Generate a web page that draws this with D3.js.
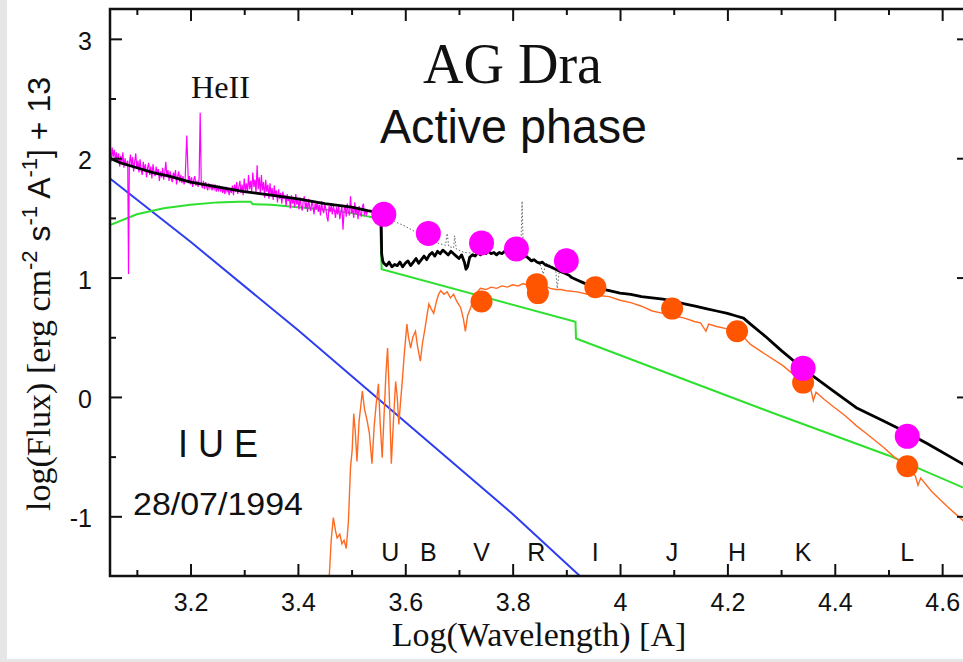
<!DOCTYPE html>
<html><head><meta charset="utf-8">
<script src="https://cdn.jsdelivr.net/npm/d3@7"></script>
<style>html,body{margin:0;padding:0;background:#fff;}svg{display:block;}</style>
</head><body>
<svg id="chart" width="963" height="662"></svg>
<script>
// ---------------- DATA ----------------
const xTickLabels = [3.2, 3.4, 3.6, 3.8, 4.0, 4.2, 4.4, 4.6];
const yTickLabels = [-1, 0, 1, 2, 3];
const bandNames = ["U","B","V","R","I","J","H","K","L"];
const bandLogWave = [3.572, 3.643, 3.742, 3.844, 3.954, 4.097, 4.218, 4.341, 4.535];

// IUE spectrum (magenta)
const iueSpectrum = [
[3.052,1.97],[3.054,2.09],[3.056,2.01],[3.058,2.07],[3.060,1.99],[3.062,2.05],[3.064,1.96],[3.066,2.04],[3.068,1.93],[3.070,2.02],[3.072,1.95],
[3.074,2.05],[3.076,1.92],[3.078,2.00],[3.080,1.94],[3.083,1.98],[3.0845,1.03],[3.086,1.95],[3.088,2.03],
[3.090,1.93],[3.092,2.01],[3.094,1.89],[3.096,1.97],[3.098,2.04],[3.100,1.91],[3.102,1.98],[3.104,1.88],[3.106,1.99],[3.108,1.90],
[3.110,1.86],[3.112,1.97],[3.114,1.89],[3.116,1.95],[3.118,1.84],[3.120,1.92],[3.122,1.96],[3.124,1.86],[3.126,1.93],[3.128,1.83],
[3.130,1.95],[3.132,1.88],[3.134,1.85],[3.136,1.93],[3.138,1.86],[3.140,1.91],[3.142,1.81],[3.144,1.89],[3.146,1.84],[3.148,1.92],
[3.150,1.82],[3.152,1.88],[3.154,1.97],[3.156,1.84],[3.158,1.90],[3.160,1.81],[3.162,1.89],[3.164,1.83],[3.166,1.80],[3.168,1.88],
[3.170,1.84],[3.172,1.90],[3.174,1.78],[3.176,1.85],[3.178,1.89],[3.180,1.80],[3.182,1.86],[3.184,1.79],[3.186,1.85],[3.188,1.78],
[3.190,1.83],[3.193,2.19],[3.196,1.79],[3.198,1.85],[3.200,1.78],[3.202,1.84],[3.204,1.76],[3.206,1.82],
[3.208,1.85],[3.210,1.77],[3.212,1.81],[3.214,1.76],[3.216,1.83],[3.218,2.38],[3.220,1.79],[3.222,1.75],[3.224,1.81],[3.226,1.74],
[3.228,1.80],[3.230,1.76],[3.232,1.73],[3.234,1.79],[3.236,1.75],[3.238,1.78],[3.240,1.73],[3.242,1.77],
[3.244,1.74],[3.246,1.78],[3.248,1.72],[3.250,1.76],[3.252,1.73],[3.254,1.77],[3.256,1.72],[3.258,1.76],[3.260,1.71],[3.262,1.75],
[3.264,1.70],[3.266,1.76],[3.268,1.72],[3.270,1.74],[3.272,1.69],[3.274,1.75],[3.276,1.71],[3.278,1.77],[3.280,1.69],[3.282,1.78],
[3.284,1.72],[3.286,1.80],[3.288,1.70],[3.290,1.76],[3.292,1.81],[3.294,1.71],[3.296,1.78],[3.298,1.69],[3.300,1.83],[3.302,1.72],
[3.304,1.79],[3.306,1.71],[3.308,1.86],[3.310,1.74],[3.312,1.81],[3.314,1.72],[3.316,1.88],[3.318,1.76],[3.320,1.82],[3.322,1.71],
[3.324,1.94],[3.326,1.74],[3.328,1.84],[3.330,1.70],[3.332,1.86],[3.334,1.73],[3.336,1.80],[3.338,1.67],[3.340,1.82],[3.342,1.72],
[3.344,1.78],[3.346,1.66],[3.348,1.79],[3.350,1.69],[3.352,1.75],[3.354,1.65],[3.356,1.77],[3.358,1.68],[3.360,1.73],[3.362,1.63],
[3.364,1.74],[3.366,1.66],[3.368,1.71],[3.370,1.62],[3.372,1.72],[3.374,1.66],[3.376,1.69],[3.378,1.60],[3.380,1.70],[3.382,1.64],
[3.384,1.68],[3.386,1.58],[3.388,1.69],[3.390,1.62],[3.392,1.66],[3.394,1.59],[3.396,1.70],[3.398,1.61],[3.400,1.66],[3.402,1.57],
[3.404,1.67],[3.406,1.60],[3.408,1.56],[3.410,1.65],[3.412,1.68],[3.414,1.58],[3.416,1.63],[3.418,1.55],[3.420,1.66],[3.422,1.59],
[3.424,1.56],[3.426,1.64],[3.428,1.60],[3.430,1.53],[3.432,1.62],[3.434,1.57],[3.436,1.64],[3.438,1.55],[3.440,1.61],[3.442,1.52],
[3.444,1.64],[3.446,1.57],[3.448,1.54],[3.450,1.62],[3.452,1.58],[3.454,1.51],[3.456,1.47],[3.458,1.60],[3.460,1.55],[3.462,1.61],
[3.464,1.53],[3.466,1.60],[3.468,1.56],[3.470,1.50],[3.472,1.59],[3.474,1.53],[3.476,1.60],[3.478,1.49],[3.480,1.55],[3.482,1.60],
[3.484,1.40],[3.486,1.56],[3.488,1.60],[3.490,1.51],[3.492,1.62],[3.494,1.55],[3.496,1.52],[3.498,1.68],[3.500,1.54],[3.502,1.58],
[3.504,1.50],[3.506,1.63],[3.508,1.53],[3.510,1.58],[3.512,1.49],[3.514,1.60],[3.516,1.54],[3.518,1.51],[3.520,1.59],[3.522,1.62],
[3.524,1.52],[3.526,1.57],[3.528,1.53],[3.530,1.56]
];

// total model / observed combined (black)
const totalSpectrum = [
[3.050,2.00],[3.07,1.96],[3.10,1.92],[3.13,1.88],[3.16,1.85],[3.20,1.80],[3.25,1.76],[3.30,1.72],[3.35,1.69],[3.40,1.66],
[3.45,1.62],[3.50,1.59],[3.53,1.56],[3.555,1.54],[3.556,1.20],[3.558,1.14],
[3.560,1.12],[3.565,1.10],[3.570,1.13],[3.575,1.09],[3.580,1.11],[3.585,1.10],[3.590,1.13],[3.595,1.09],[3.600,1.12],[3.605,1.14],
[3.610,1.10],[3.615,1.13],[3.620,1.16],[3.625,1.12],[3.630,1.15],[3.635,1.18],[3.640,1.15],[3.645,1.19],[3.650,1.21],[3.655,1.18],
[3.660,1.22],[3.665,1.20],[3.670,1.23],[3.675,1.21],[3.680,1.19],[3.685,1.22],[3.690,1.20],[3.695,1.18],[3.700,1.16],[3.705,1.19],
[3.710,1.13],[3.713,1.07],[3.716,1.09],[3.720,1.17],[3.725,1.19],[3.730,1.18],[3.735,1.21],[3.740,1.19],[3.745,1.21],[3.750,1.20],
[3.755,1.22],[3.760,1.20],[3.765,1.21],[3.770,1.19],[3.775,1.21],[3.780,1.20],[3.785,1.22],[3.790,1.20],[3.795,1.21],[3.800,1.19],
[3.805,1.20],[3.810,1.18],[3.815,1.19],[3.820,1.17],[3.825,1.18],[3.830,1.16],[3.835,1.14],[3.840,1.15],[3.845,1.13],[3.850,1.12],
[3.855,1.13],[3.860,1.11],[3.865,1.10],[3.870,1.09],[3.875,1.08],[3.880,1.07],[3.885,1.06],[3.890,1.05],[3.895,1.04],[3.900,1.03],
[3.905,1.02],[3.910,1.00],[3.915,0.99],[3.920,0.98],[3.930,0.96],[3.940,0.94],[3.950,0.92],[3.960,0.91],[3.980,0.89],[4.000,0.87],
[4.020,0.86],[4.040,0.84],[4.060,0.83],[4.080,0.82],[4.100,0.80],[4.120,0.78],[4.140,0.76],[4.160,0.74],[4.180,0.72],[4.200,0.70],
[4.215,0.68],[4.230,0.66],[4.243,0.61],[4.270,0.51],[4.300,0.39],[4.340,0.24],[4.397,0.05],[4.440,-0.09],[4.490,-0.20],[4.535,-0.30],
[4.572,-0.39],[4.634,-0.55],[4.650,-0.59]
];

// comparison spectrum (dotted grey)
const dottedSpectrum = [
[3.556,1.53],[3.58,1.47],[3.60,1.43],[3.62,1.38],[3.64,1.33],[3.66,1.29],[3.675,1.27],[3.678,1.37],[3.681,1.26],[3.69,1.25],
[3.692,1.35],[3.695,1.24],[3.71,1.21],[3.74,1.20],[3.78,1.21],[3.815,1.20],[3.8176,1.64],[3.820,1.19],[3.85,1.13],[3.857,1.03],
[3.862,1.12],[3.88,1.08],[3.883,0.91],[3.887,1.06],[3.91,1.01]
];

// giant spectrum (orange)
const giantSpectrum = [
[3.458,-1.54],[3.462,-1.20],[3.466,-1.01],[3.470,-1.12],[3.473,-1.18],[3.478,-1.15],[3.482,-1.23],[3.486,-1.20],[3.490,-1.27],[3.494,-1.05],
[3.498,-0.59],[3.501,-0.45],[3.504,-0.14],[3.507,-0.30],[3.510,-0.54],[3.514,-0.20],[3.517,-0.08],[3.520,0.05],[3.524,-0.10],[3.529,-0.20],
[3.533,-0.30],[3.538,-0.56],[3.542,-0.25],[3.546,-0.05],[3.550,0.11],[3.553,-0.20],[3.557,-0.51],[3.561,-0.10],[3.564,0.20],[3.567,0.41],
[3.570,0.05],[3.574,-0.56],[3.578,-0.20],[3.582,0.13],[3.585,0.00],[3.588,-0.23],[3.591,-0.05],[3.594,0.11],[3.598,0.35],[3.603,0.61],
[3.606,0.50],[3.610,0.41],[3.614,0.50],[3.619,0.55],[3.623,0.42],[3.628,0.30],[3.632,0.45],[3.637,0.58],[3.641,0.70],[3.644,0.78],
[3.648,0.74],[3.653,0.70],[3.658,0.80],[3.662,0.86],[3.666,0.89],[3.672,0.86],[3.678,0.88],[3.684,0.83],[3.690,0.86],[3.696,0.80],
[3.703,0.75],[3.708,0.66],[3.712,0.55],[3.716,0.68],[3.722,0.75],[3.728,0.84],[3.734,0.88],[3.740,0.91],[3.750,0.90],[3.760,0.92],
[3.770,0.91],[3.780,0.93],[3.790,0.92],[3.800,0.94],[3.810,0.93],[3.820,0.95],[3.830,0.93],[3.840,0.94],[3.850,0.92],[3.860,0.93],
[3.870,0.91],[3.880,0.90],[3.890,0.90],[3.900,0.89],[3.920,0.88],[3.940,0.86],[3.960,0.85],[3.980,0.84],[4.000,0.81],[4.020,0.79],
[4.040,0.76],[4.060,0.72],[4.080,0.70],[4.100,0.68],[4.120,0.66],[4.140,0.63],[4.150,0.62],[4.160,0.55],[4.165,0.61],[4.180,0.59],
[4.200,0.57],[4.220,0.55],[4.243,0.44],[4.270,0.36],[4.304,0.26],[4.341,0.12],[4.355,0.07],[4.360,-0.03],[4.365,0.04],[4.380,-0.02],
[4.397,-0.08],[4.420,-0.16],[4.440,-0.24],[4.460,-0.31],[4.490,-0.42],[4.510,-0.50],[4.535,-0.58],[4.550,-0.66],[4.555,-0.74],[4.560,-0.68],
[4.580,-0.79],[4.610,-0.92],[4.640,-1.04],[4.650,-1.08]
];

// hot component / nebular model (green)
const nebularModel = [
[3.05,1.44],[3.10,1.53],[3.15,1.58],[3.20,1.61],[3.25,1.63],[3.29,1.635],[3.312,1.635],[3.316,1.615],[3.35,1.61],[3.40,1.59],
[3.45,1.57],[3.50,1.54],[3.545,1.50],[3.553,1.49],[3.556,1.07],[3.917,0.63],[3.918,0.49],[4.10,0.18],[4.30,-0.16],[4.50,-0.49],[4.65,-0.78]
];

// hot star (blue)
const hotStar = [[3.05,1.83],[3.20,1.30],[3.40,0.56],[3.60,-0.21],[3.80,-0.98],[3.93,-1.52]];

// photometry
const magentaWave = [3.560, 3.643, 3.742, 3.807, 3.900, 4.341, 4.535];
const magentaFlux = [1.53, 1.37, 1.29, 1.24, 1.14, 0.24, -0.33];
const orangeWave = [3.742, 3.845, 3.847, 3.954, 4.097, 4.218, 4.341, 4.535];
const orangeFlux = [0.80, 0.945, 0.87, 0.92, 0.74, 0.55, 0.12, -0.58];

// ---------------- DRAW ----------------
const svg = d3.select("#chart");
const W = 963, H = 662;
const L = 110, R = 969, T = 9, B = 576;
const x = d3.scaleLinear().domain([3.05, 4.65]).range([L, R]);
const y = d3.scaleLinear().domain([-1.5, 3.25]).range([B, T]);

svg.append("rect").attr("width", W).attr("height", H).attr("fill", "#fff");
svg.append("rect").attr("x", 0).attr("y", 0).attr("width", 7).attr("height", H).attr("fill", "#e6e6e6");
svg.append("rect").attr("x", 0).attr("y", 659).attr("width", W).attr("height", 3).attr("fill", "#e6e6e6");

svg.append("defs").append("clipPath").attr("id", "clip")
  .append("rect").attr("x", L).attr("y", T).attr("width", R - L).attr("height", B - T);

const plot = svg.append("g").attr("clip-path", "url(#clip)");
const line = d3.line().x(d => x(d[0])).y(d => y(d[1]));

plot.append("path").datum(hotStar).attr("d", line).attr("fill", "none").attr("stroke", "#2f3df0").attr("stroke-width", 2);
plot.append("path").datum(nebularModel).attr("d", line).attr("fill", "none").attr("stroke", "#2ee02e").attr("stroke-width", 2);
plot.append("path").datum(iueSpectrum).attr("d", line).attr("fill", "none").attr("stroke", "#ff00ff").attr("stroke-width", 1.2);
plot.append("path").datum(giantSpectrum).attr("d", line).attr("fill", "none").attr("stroke", "#ff6a22").attr("stroke-width", 1.4);
plot.append("path").datum(dottedSpectrum).attr("d", line).attr("fill", "none").attr("stroke", "#666").attr("stroke-width", 1).attr("stroke-dasharray", "1.5,2");
plot.append("path").datum(totalSpectrum).attr("d", line).attr("fill", "none").attr("stroke", "#000").attr("stroke-width", 2.8).attr("stroke-linejoin", "round");

plot.selectAll("circle.orange").data(orangeWave).enter().append("circle").attr("class", "orange")
  .attr("cx", d => x(d)).attr("cy", (d, i) => y(orangeFlux[i])).attr("r", 11).attr("fill", "#ff5500");
plot.selectAll("circle.mag").data(magentaWave).enter().append("circle").attr("class", "mag")
  .attr("cx", d => x(d)).attr("cy", (d, i) => y(magentaFlux[i])).attr("r", 12.5).attr("fill", "#ff00ff");

// axes
const majX = d3.range(3.1, 4.65, 0.1).map(v => +v.toFixed(2));
const ax = svg.append("g").attr("class", "axes");
function styleAxis(g) { g.select(".domain").remove(); g.selectAll(".tick line").attr("stroke", "#111").attr("stroke-width", 2); g.selectAll("text").attr("fill", "#111").attr("font-family", "'Liberation Sans', Arial, sans-serif").attr("font-size", 25); }

const xMajor = xTickLabels;
const xMinor = majX.filter(v => !xMajor.some(m => Math.abs(m - v) < 1e-6));
ax.append("g").attr("transform", `translate(0,${B})`)
  .call(d3.axisBottom(x).tickValues(xMajor).tickSize(-12).tickPadding(17).tickFormat(d => d === 4 ? "4" : d.toFixed(1)))
  .call(styleAxis);
ax.append("g").attr("transform", `translate(0,${B})`).call(d3.axisBottom(x).tickValues(xMinor).tickSize(-6).tickFormat("")).call(styleAxis);
ax.append("g").attr("transform", `translate(0,${T})`).call(d3.axisTop(x).tickValues(xMajor).tickSize(-12).tickFormat("")).call(styleAxis);
ax.append("g").attr("transform", `translate(0,${T})`).call(d3.axisTop(x).tickValues(xMinor).tickSize(-6).tickFormat("")).call(styleAxis);

const yMinor = [-0.5, 0.5, 1.5, 2.5];
ax.append("g").attr("transform", `translate(${L},0)`)
  .call(d3.axisLeft(y).tickValues(yTickLabels).tickSize(-12).tickPadding(18).tickFormat(d => String(d)))
  .call(styleAxis).call(g => g.selectAll("text").attr("dy", "0.42em"));
ax.append("g").attr("transform", `translate(${L},0)`).call(d3.axisLeft(y).tickValues(yMinor).tickSize(-6).tickFormat("")).call(styleAxis);
ax.append("g").attr("transform", `translate(${R},0)`).call(d3.axisRight(y).tickValues(yTickLabels).tickSize(-12).tickFormat("")).call(styleAxis);
ax.append("g").attr("transform", `translate(${R},0)`).call(d3.axisRight(y).tickValues(yMinor).tickSize(-6).tickFormat("")).call(styleAxis);

svg.append("rect").attr("x", L).attr("y", T).attr("width", R - L).attr("height", B - T)
  .attr("fill", "none").attr("stroke", "#111").attr("stroke-width", 2.5);

// band labels
svg.append("g").selectAll("text").data(bandNames).enter().append("text")
  .attr("x", (d, i) => x(bandLogWave[i])).attr("y", 561).attr("text-anchor", "middle")
  .attr("font-family", "'Liberation Sans', Arial, sans-serif").attr("font-size", 25).attr("fill", "#111").text(d => d);

// titles & annotations
const serif = "'Liberation Serif', 'Times New Roman', serif";
const sans = "'Liberation Sans', Arial, sans-serif";
svg.append("text").attr("x", 423).attr("y", 83).attr("font-family", serif).attr("font-size", 56).attr("fill", "#111")
  .attr("textLength", 179).attr("lengthAdjust", "spacingAndGlyphs").text("AG Dra");
svg.append("text").attr("x", 380).attr("y", 143).attr("font-family", sans).attr("font-size", 48).attr("fill", "#111")
  .attr("textLength", 267).attr("lengthAdjust", "spacingAndGlyphs").text("Active phase");
svg.append("text").attr("x", 191).attr("y", 98).attr("font-family", serif).attr("font-size", 32).attr("fill", "#111")
  .attr("textLength", 59).attr("lengthAdjust", "spacingAndGlyphs").text("HeII");
svg.append("text").attr("x", 178).attr("y", 457).attr("font-family", sans).attr("font-size", 38).attr("fill", "#111")
  .attr("textLength", 80).attr("lengthAdjust", "spacingAndGlyphs").text("I U E");
svg.append("text").attr("x", 133).attr("y", 515).attr("font-family", sans).attr("font-size", 31).attr("fill", "#111")
  .attr("textLength", 170).attr("lengthAdjust", "spacingAndGlyphs").text("28/07/1994");

svg.append("text").attr("x", 539).attr("y", 646).attr("text-anchor", "middle").attr("font-family", serif)
  .attr("font-size", 34).attr("fill", "#111").text("Log(Wavelength) [A]");

const yt = svg.append("text").attr("transform", "translate(50,294) rotate(-90)").attr("text-anchor", "middle").attr("fill", "#111");
yt.append("tspan").attr("font-family", serif).attr("font-size", 34).text("log(Flux) [erg cm");
yt.append("tspan").attr("font-family", sans).attr("font-size", 22).attr("dy", -13).text("-2");
yt.append("tspan").attr("font-family", sans).attr("font-size", 32).attr("dy", 13).text(" s");
yt.append("tspan").attr("font-family", sans).attr("font-size", 22).attr("dy", -13).text("-1");
yt.append("tspan").attr("font-family", sans).attr("font-size", 32).attr("dy", 13).text(" A");
yt.append("tspan").attr("font-family", sans).attr("font-size", 22).attr("dy", -13).text("-1");
yt.append("tspan").attr("font-family", sans).attr("font-size", 32).attr("dy", 13).text("] + 13");
</script>
</body></html>
